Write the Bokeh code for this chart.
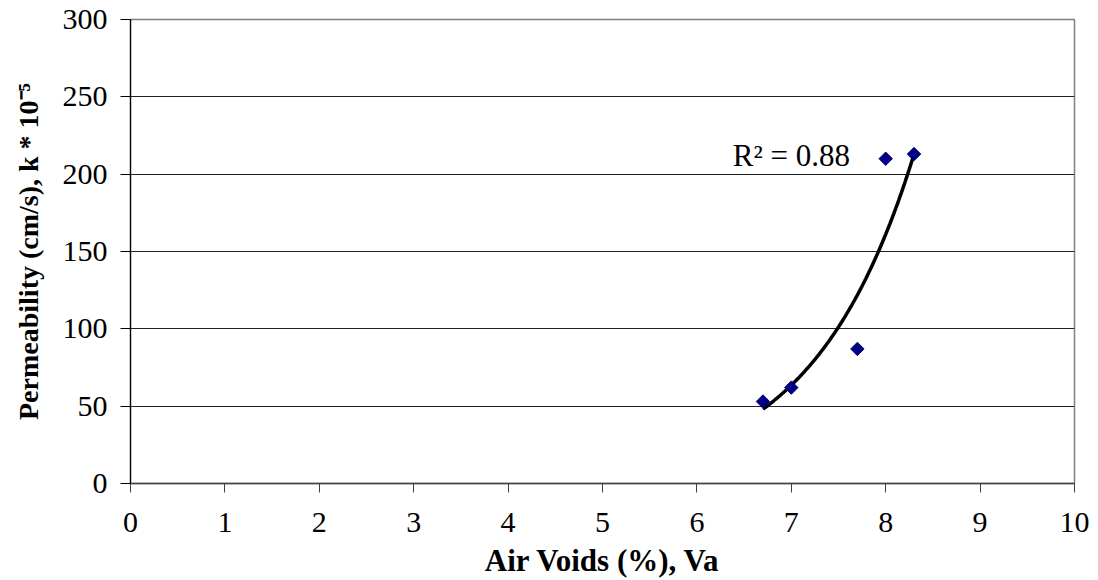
import numpy as np
from bokeh.plotting import figure
from bokeh.models import Range1d, FixedTicker, Label
from bokeh.embed import file_html
from bokeh.resources import INLINE

# Measured samples: air voids (%) vs permeability (k * 1e-5 cm/s)
air_voids = [6.7, 7.0, 7.7, 8.0, 8.3]
permeability = [53, 62, 87, 210, 213]

x_ticks = [0, 1, 2, 3, 4, 5, 6, 7, 8, 9, 10]
y_ticks = [0, 50, 100, 150, 200, 250, 300]
r2_label = "R² = 0.88"

SERIF = "Liberation Serif"

p = figure(
    width=1098, height=580,
    output_backend="svg", toolbar_location=None,
    x_range=Range1d(0, 10), y_range=Range1d(0, 300),
    min_border_left=130, min_border_right=24,
    min_border_top=19, min_border_bottom=97,
    background_fill_color="white", border_fill_color="white",
)

# frame
p.outline_line_color = "#808080"
p.outline_line_width = 1.5

# grid: horizontal lines only
p.xgrid.visible = False
p.ygrid.ticker = FixedTicker(ticks=y_ticks)
p.ygrid.grid_line_color = "#222222"
p.ygrid.grid_line_width = 1

# x axis
p.xaxis.ticker = FixedTicker(ticks=x_ticks)
p.xaxis.axis_label = "Air Voids (%), Va"
p.xaxis.axis_line_color = "#404040"
p.xaxis.axis_line_width = 1.5
p.xaxis.major_tick_line_color = "#404040"
p.xaxis.major_tick_in = 0
p.xaxis.major_tick_out = 9
p.xaxis.minor_tick_line_color = None
p.xaxis.major_label_standoff = 20
p.xaxis.axis_label_standoff = 8

# y axis
p.yaxis.ticker = FixedTicker(ticks=y_ticks)
p.yaxis.axis_label = "Permeability (cm/s), k * 10⁻⁵"
p.yaxis.axis_line_color = "#000000"
p.yaxis.axis_line_width = 1.2
p.yaxis.major_tick_line_color = "#000000"
p.yaxis.major_tick_in = 0
p.yaxis.major_tick_out = 10
p.yaxis.minor_tick_line_color = None
p.yaxis.major_label_standoff = 13
p.yaxis.axis_label_standoff = 16

for ax in (p.xaxis[0], p.yaxis[0]):
    ax.major_label_text_font = SERIF
    ax.major_label_text_font_size = "30px"
    ax.major_label_text_color = "black"
    ax.axis_label_text_font = SERIF
    ax.axis_label_text_font_style = "bold"
    ax.axis_label_text_color = "black"
p.xaxis.axis_label_text_font_size = "31px"
p.yaxis.axis_label_text_font_size = "28px"

# exponential trend line fitted to the samples
b, a = np.polyfit(np.array(air_voids), np.log(np.array(permeability)), 1)
xs = np.linspace(min(air_voids), max(air_voids), 120)
p.line(xs, np.exp(a + b * xs), line_color="black", line_width=3.5)

# samples as navy diamonds
p.scatter(air_voids, permeability, marker="square", angle=np.pi / 4,
          size=9.5, fill_color="#000080", line_color="#000080")

p.add_layout(Label(
    x=6.38, y=212, text=r2_label,
    text_font=SERIF, text_font_size="31px", text_color="black",
    text_baseline="alphabetic", text_align="left",
))

open("out.html", "w").write(file_html(p, INLINE))
